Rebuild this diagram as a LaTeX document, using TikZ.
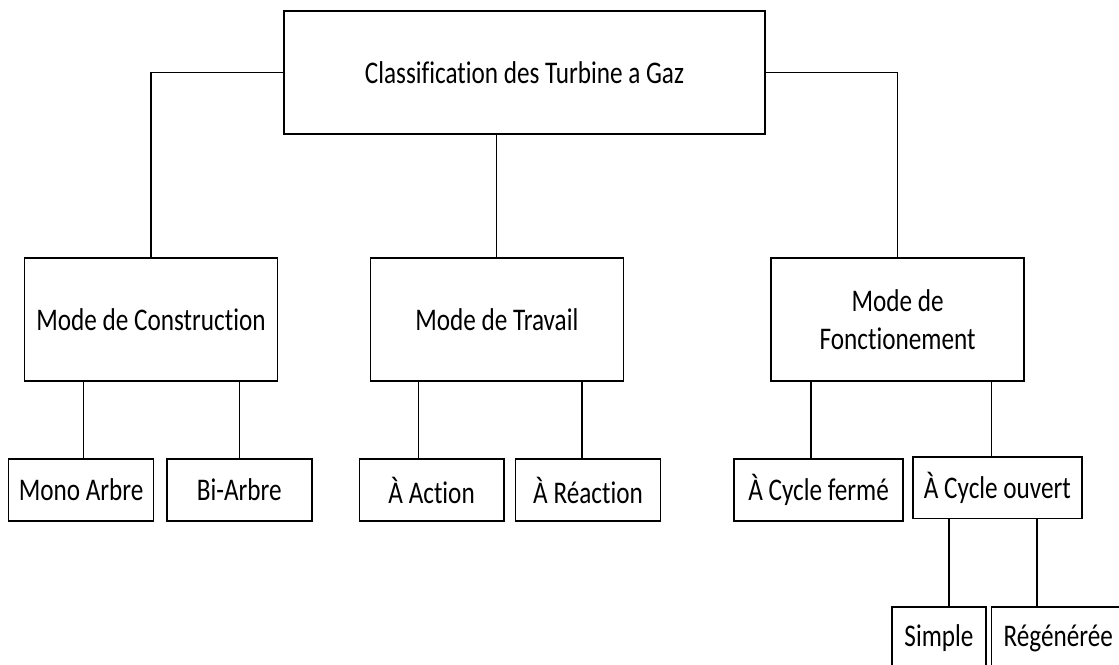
\documentclass[tikz,border=0pt]{standalone}
\usepackage{fontspec}
\setmainfont{Carlito}[FakeStretch=0.8, Ligatures={NoCommon, NoRare}]
\begin{document}
\begin{tikzpicture}[x=1pt,y=-1pt,
  box/.style={draw=black, line width=1.4pt, fill=white, inner sep=0pt, outer sep=0pt,
    align=center, font=\fontsize{31.5}{38.4}\selectfont},
  conn/.style={draw=black, line width=1.1pt}]
\useasboundingbox[fill=white] (0,0) rectangle (1119,664);
% nodes
\node[box, minimum width=481pt, minimum height=123pt] (root) at (524.5,72.5) {Classification des Turbine a Gaz};
\node[box, minimum width=253pt, minimum height=123pt] (cons) at (151,319.5) {Mode de Construction};
\node[box, minimum width=253pt, minimum height=123pt] (trav) at (496.8,319.5) {Mode de Travail};
\node[box, minimum width=253pt, minimum height=123pt] (fonc) at (897.6,319.5) {Mode de\\Fonctionement};
\node[box, minimum width=145pt, minimum height=62pt] (mono) at (81.1,490) {Mono Arbre};
\node[box, minimum width=145pt, minimum height=62pt] (bi) at (239.3,490) {Bi-Arbre};
\node[box, minimum width=144.6pt, minimum height=62pt] (action) at (431.6,490) {À Action};
\node[box, minimum width=144.7pt, minimum height=62pt] (reaction) at (588,490) {À Réaction};
\node[box, minimum width=169pt, minimum height=62pt] (ferme) at (818.6,490) {À Cycle fermé};
\node[box, minimum width=169pt, minimum height=61.7pt] (ouvert) at (997.4,487.9) {À Cycle ouvert};
\node[box, minimum width=94pt, minimum height=62pt] (simple) at (939,638) {Simple};
\node[box, minimum width=133.6pt, minimum height=62pt] (regen) at (1058.2,638) {Régénérée};
% connectors
\draw[conn] (root.west) -| (cons.north);
\draw[conn] (root.east) -| (fonc.north);
\draw[conn] (root.south -| trav.north) -- (trav.north);
\draw[conn] ([xshift=2pt]cons.south -| mono.north) -- ([xshift=2pt]mono.north);
\draw[conn] (cons.south -| bi.north) -- (bi.north);
\draw[conn] ([xshift=-13.4pt]trav.south -| action.north) -- ([xshift=-13.4pt]action.north);
\draw[conn] ([xshift=-6pt]trav.south -| reaction.north) -- ([xshift=-6pt]reaction.north);
\draw[conn] ([xshift=-7.6pt]fonc.south -| ferme.north) -- ([xshift=-7.6pt]ferme.north);
\draw[conn] ([xshift=-5.6pt]fonc.south -| ouvert.north) -- ([xshift=-5.6pt]ouvert.north);
\draw[conn] ([xshift=10pt]ouvert.south -| simple.north) -- ([xshift=10pt]simple.north);
\draw[conn] ([xshift=-21.2pt]ouvert.south -| regen.north) -- ([xshift=-21.2pt]regen.north);
\end{tikzpicture}
\end{document}
